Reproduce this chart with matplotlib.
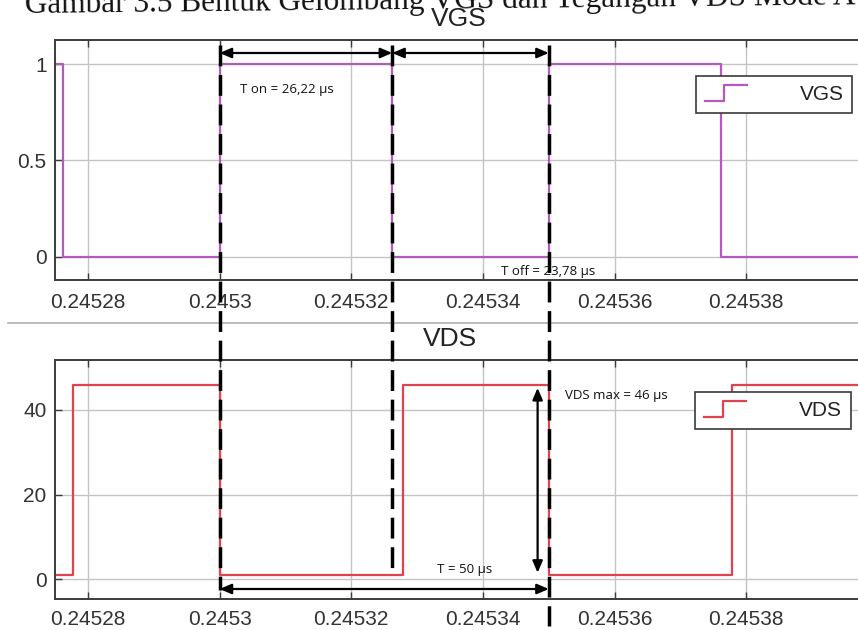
import numpy as np
import matplotlib.pyplot as plt
from matplotlib.lines import Line2D
from matplotlib.legend_handler import HandlerBase
from matplotlib.transforms import blended_transform_factory

# data: switching instants (s) and levels
vgs_t = [0.245275, 0.24527622, 0.2453, 0.24532622, 0.24535, 0.24537622, 0.2454]
vgs_v = [1, 0, 1, 0, 1, 0, 0]
vds_t = [0.245275, 0.2452778, 0.2453, 0.2453278, 0.24535, 0.2453778, 0.2454]
vds_v = [1, 46, 1, 46, 1, 46, 46]

xticks = [0.24528, 0.2453, 0.24532, 0.24534, 0.24536, 0.24538]
xtick_labels = ["0.24528", "0.2453", "0.24532", "0.24534", "0.24536", "0.24538"]
vgs_yticks = [0, 0.5, 1]
vgs_ylabels = ["0", "0.5", "1"]
vds_yticks = [0, 20, 40]
vds_ylabels = ["0", "20", "40"]

# garis batas dan besaran yang ditandai
t_on_start = 0.2453
t_off_start = 0.24532622
t_period_end = 0.24535
t_vds_arrow = 0.2453483
vds_max = 46
vds_min = 1

txt_ton = "T on = 26,22 µs"
txt_toff = "T off = 23,78 µs"
txt_vdsmax = "VDS max = 46 µs"
txt_period = "T = 50 µs"

plt.rcParams['font.family'] = ['Liberation Sans', 'DejaVu Sans']

vgs_color = '#b35bbd'
vds_color = '#e0434f'
grid_color = '#c4c4c4'
spine_color = '#3c3c3c'
tick_color = '#333333'


class StepHandler(HandlerBase):
    # ikon legend bentuk tangga seperti di simulink
    def create_artists(self, legend, orig_handle, xdescent, ydescent,
                       width, height, fontsize, trans):
        x0 = -xdescent
        y0 = -ydescent
        xs = [x0, x0 + 0.45 * width, x0 + 0.45 * width, x0 + width]
        ys = [y0, y0, y0 + height, y0 + height]
        ln = Line2D(xs, ys, color=orig_handle.get_color(),
                    lw=orig_handle.get_linewidth())
        ln.set_transform(trans)
        return [ln]


fig = plt.figure(figsize=(8.58, 6.3), dpi=100)
ax1 = fig.add_axes([55 / 858, 350 / 630, 823 / 858, 240 / 630])
ax2 = fig.add_axes([55 / 858, 31 / 630, 823 / 858, 239 / 630])


def style_axes(ax, yticks, ylabels, ylim, title, title_x, xpad):
    ax.set_xlim(0.245275, 0.2454)
    ax.set_ylim(*ylim)
    ax.set_xticks(xticks)
    ax.set_xticklabels(xtick_labels)
    ax.set_yticks(yticks)
    ax.set_yticklabels(ylabels)
    ax.grid(True, color=grid_color, lw=1.0)
    ax.set_axisbelow(True)
    ax.tick_params(direction='in', length=5, width=1, colors=spine_color,
                   labelcolor=tick_color, labelsize=15, top=True, right=True)
    ax.tick_params(axis='x', pad=xpad)
    ax.tick_params(axis='y', pad=6)
    for s in ax.spines.values():
        s.set_color(spine_color)
        s.set_linewidth(1.4)
    ax.set_title(title, fontsize=19, color='#222222', x=title_x, pad=10)


style_axes(ax1, vgs_yticks, vgs_ylabels, (-0.12, 1.125), "VGS", 0.491, 9)
style_axes(ax2, vds_yticks, vds_ylabels, (-4.7, 51.8), "VDS", 0.48, 8)

l1, = ax1.step(vgs_t, vgs_v, where='post', color=vgs_color, lw=1.6, label="VGS")
l2, = ax2.step(vds_t, vds_v, where='post', color=vds_color, lw=1.6, label="VDS")

for ax, ln, anchor in [(ax1, l1, (0.779, 0.85)), (ax2, l2, (0.778, 0.866))]:
    leg = ax.legend(handles=[ln], loc='upper left', bbox_to_anchor=anchor,
                    borderaxespad=0, fontsize=15, handlelength=2.0,
                    handleheight=0.8, handletextpad=2.55, borderpad=0.42,
                    fancybox=False, framealpha=1, edgecolor='#3a3a3a',
                    handler_map={Line2D: StepHandler()})
    leg.get_frame().set_linewidth(1.2)
    for t in leg.get_texts():
        t.set_color('#222222')

# garis pemisah antar gambar
fig.add_artist(Line2D([8 / 858, 1], [307 / 630, 307 / 630],
                      color='#b0b0b0', lw=1.2))

# judul gambar (terpotong di atas, sedikit miring hasil scan)
fig.text(25 / 858, 1 - 13 / 630,
         "Gambar 3.5 Bentuk Gelombang VGS dan Tegangan VDS Mode A",
         family=['Liberation Serif', 'DejaVu Serif'], fontsize=22.5,
         ha='left', va='baseline', color='#111111',
         rotation=0.6, rotation_mode='anchor')

# anotasi: garis putus-putus dan panah (x dari data, y dari figure)
trans = blended_transform_factory(ax1.transData, fig.transFigure)
trans2 = blended_transform_factory(ax2.transData, fig.transFigure)
for t0, ybot in [(t_on_start, 590), (t_off_start, 575), (t_period_end, 626)]:
    fig.add_artist(Line2D([t0, t0], [1 - 45 / 630, 1 - ybot / 630],
                          transform=trans, color='black', lw=2.5,
                          linestyle=(0, (6, 2.5))))

arrow_kw = dict(arrowstyle='<|-|>,head_length=0.7,head_width=0.3',
                color='black', lw=1.6, shrinkA=0, shrinkB=0)
y_top = 1 - 53 / 630
ax1.annotate('', xy=(t_off_start, y_top), xytext=(t_on_start, y_top),
             xycoords=trans, textcoords=trans, arrowprops=arrow_kw,
             annotation_clip=False)
ax1.annotate('', xy=(t_period_end, y_top), xytext=(t_off_start, y_top),
             xycoords=trans, textcoords=trans, arrowprops=arrow_kw,
             annotation_clip=False)
y_bot = 1 - 589 / 630
ax2.annotate('', xy=(t_period_end, y_bot), xytext=(t_on_start, y_bot),
             xycoords=trans2, textcoords=trans2, arrowprops=arrow_kw,
             annotation_clip=False)
ax2.annotate('', xy=(t_vds_arrow, vds_max - 0.8), xytext=(t_vds_arrow, vds_min + 0.5),
             xycoords='data', arrowprops=arrow_kw, annotation_clip=False)

ann_font = dict(family=['Open Sans', 'DejaVu Sans'], fontsize=9.5, color='#111111')
ax1.text(t_on_start + 3.1e-6, 1 - 89 / 630, txt_ton, transform=trans,
         va='center', ha='left', **ann_font)
ax1.text(0.2453428, 1 - 272 / 630, txt_toff, transform=trans,
         va='center', ha='left', **ann_font)
ax2.text(0.2453525, 1 - 395 / 630, txt_vdsmax, transform=trans2,
         va='center', ha='left', **ann_font)
ax2.text(0.2453330, 1 - 569 / 630, txt_period, transform=trans2,
         va='center', ha='left', **ann_font)

plt.savefig("out.png", dpi=100)
plt.close()
